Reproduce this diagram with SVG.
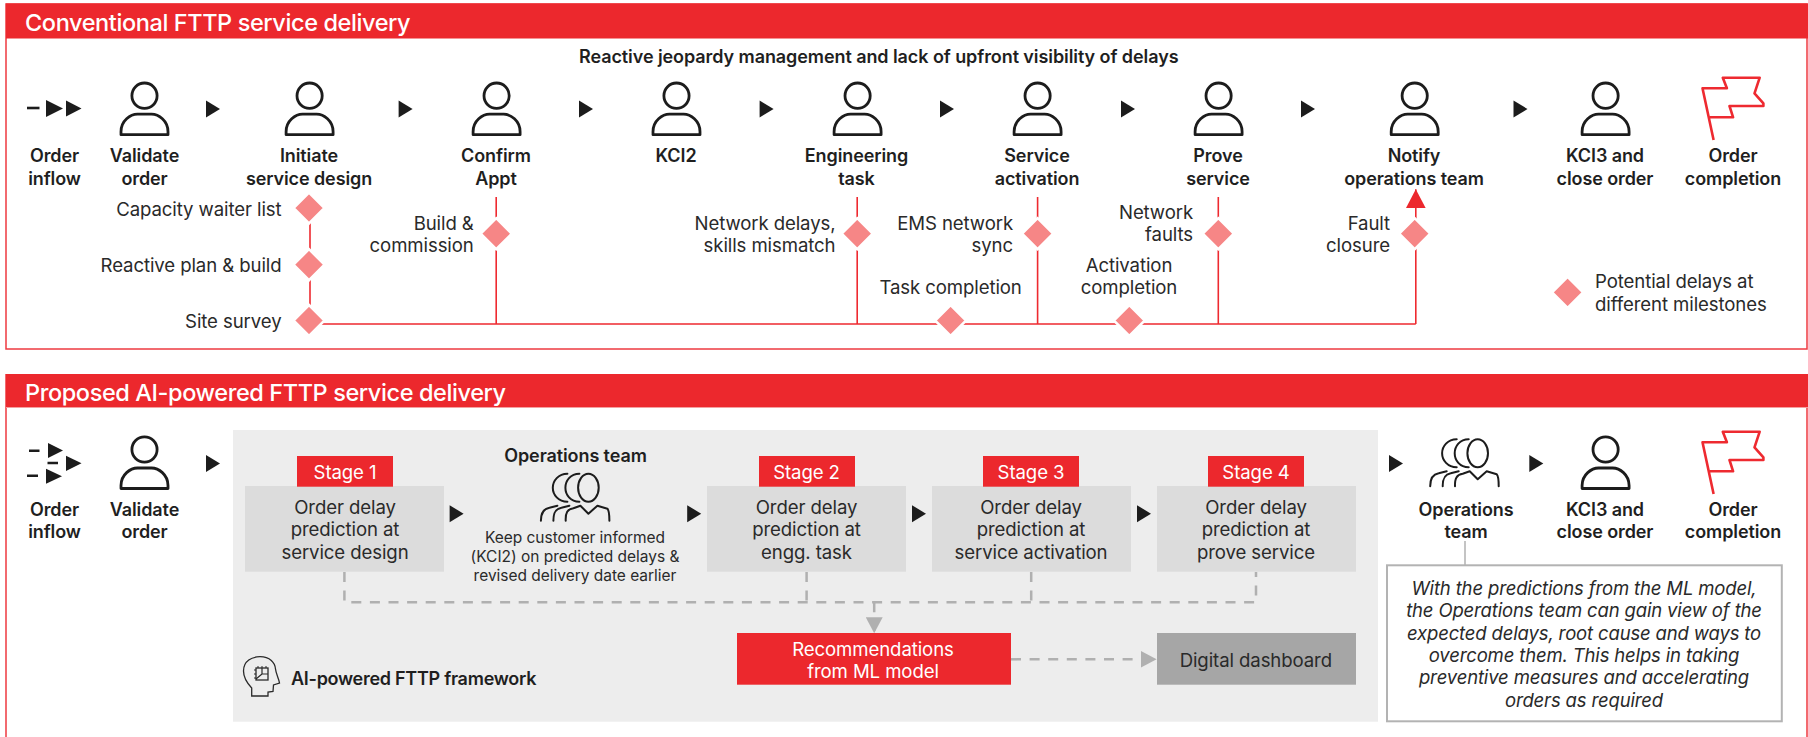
<svg xmlns="http://www.w3.org/2000/svg" width="1808" height="737" viewBox="0 0 1808 737">
<style>
text{font-family:"Inter","Liberation Sans",sans-serif;fill:#2a2a2a}
.title{font-size:23.5px;font-weight:500;fill:#fff;letter-spacing:-.4px}
.b{font-size:18px;font-weight:600;fill:#1f1f1f;text-anchor:middle;letter-spacing:-.1px}
.bl{font-size:18px;font-weight:600;fill:#1f1f1f;letter-spacing:-.27px}
.sub{letter-spacing:-.08px}
.r{font-size:18.6px;letter-spacing:-.1px}
.e{text-anchor:end}
.m{text-anchor:middle}
.w{fill:#fff}
.s{font-size:15.5px;text-anchor:middle;letter-spacing:-.02px}
.i{font-size:18.5px;font-style:italic;text-anchor:middle;letter-spacing:-.15px}
.frame{fill:none;stroke:#ee3a40;stroke-width:1.5}
.hd{fill:#ec282d}
.dia{fill:#f68686;stroke:#fff;stroke-width:2.5}
.red{fill:none;stroke:#ee2a30;stroke-width:1.6}
.dash{fill:none;stroke:#b0b0b0;stroke-width:2.5;stroke-dasharray:10 8.6}
.ink{fill:none;stroke:#1c1c1c;stroke-width:2.8;stroke-linejoin:round}
.ink2{fill:none;stroke:#1c1c1c;stroke-width:2;stroke-linecap:round;stroke-linejoin:round}
.flag{fill:none;stroke:#ee2a30;stroke-width:2.6;stroke-linejoin:round}
.box{fill:#dcdcdc}
.tag{fill:#ec282d}
</style>
<defs>
<polygon id="tri" points="0,-8.5 14,0 0,8.5" fill="#1c1c1c"/>
<polygon id="d" class="dia" points="0,-15.5 15.5,0 0,15.5 -15.5,0"/>
<g id="person"><ellipse cx="0" cy="0" rx="12.6" ry="12.7" class="ink"/><path class="ink" d="M-23.5 39 V36 C-23.5 25 -14 18.5 -7 18.5 H7 C14 18.5 23.5 25 23.5 36 V39 Z"/></g>
<path id="flagshape" class="flag" d="M1713.6 140 L1702.5 88.3 H1726.9 L1722.8 77.7 H1759.7 L1754.5 93.3 L1763.4 103.3 V106 H1729.5 L1733.1 117.3 H1709.9"/>
<g id="ops" class="ink2"><ellipse cx="0" cy="0" rx="10.3" ry="14"/><path d="M-9 -14 C-18 -14 -23 -7 -23 0 C-23 7 -18 14 -9 14M-21 -14 C-30 -14 -35.6 -7 -35.6 0 C-35.6 7 -30 14 -21 14M-22.7 33 C-23 25 -21 21.5 -15 20.5 L-8 18 L0 26 L9 18 L19 21 C21 23 21 27 21 33M-35 33 C-35 25 -33 21 -27 20 L-19 18M-47.5 33 C-47.5 25 -45 21 -39 20 L-31 18"/></g>
<marker id="mRed" markerUnits="userSpaceOnUse" markerWidth="20" markerHeight="20" refX="19" refY="10" orient="auto"><polygon points="0,0 19,10 0,20" fill="#ec282d"/></marker>
<marker id="mGray" markerUnits="userSpaceOnUse" markerWidth="17" markerHeight="17" refX="16" refY="8.5" orient="auto"><polygon points="0,0 16,8.5 0,17" fill="#b0b0b0"/></marker>
</defs>

<g id="section-conventional">
<rect class="frame" x="6" y="4" width="1801" height="345"/>
<rect class="hd" x="6" y="3.5" width="1802" height="35"/>
<text class="title" x="25" y="30.7">Conventional FTTP service delivery</text>
<text class="bl sub" x="579" y="63.3">Reactive jeopardy management and lack of upfront visibility of delays</text>
</g>
<g id="section-proposed">
<path class="frame" d="M6 374 V737 M1807 374 V737"/>
<rect class="hd" x="6" y="374" width="1802" height="33"/>
<rect x="6" y="407" width="1802" height="1" fill="#f4a0a0"/>
<text class="title" x="25" y="400.7">Proposed AI-powered FTTP service delivery</text>
<rect id="framework-panel" x="233" y="430" width="1145" height="291.7" fill="#ededed"/>
</g>

<g id="connectors">
<path class="red" d="M310 200 V320 M310 324 H1415.8 M496.2 197 V324 M857.2 197 V324 M1037.6 197 V324 M1218.3 197 V324"/>
<path class="red" d="M1415.8 324 V189.3" marker-end="url(#mRed)"/>
<path class="dash" d="M344.4 572 V602.3 H1256 V572 M806.6 572 V602.3 M1031.2 572 V602.3"/>
<path class="dash" d="M874.2 602.3 V633.3" marker-end="url(#mGray)"/>
<path class="dash" d="M1011 659.3 H1156.6" marker-end="url(#mGray)"/>
<path d="M1465 541 V565" fill="none" stroke="#b0b0b0" stroke-width="1.5"/>
<g>
<use href="#tri" x="206" y="109"/><use href="#tri" x="398.6" y="109"/><use href="#tri" x="579" y="109"/><use href="#tri" x="759.6" y="109"/><use href="#tri" x="940" y="109"/><use href="#tri" x="1121" y="109"/><use href="#tri" x="1301" y="109"/><use href="#tri" x="1513.5" y="109"/>
<use href="#tri" x="206" y="463.5"/><use href="#tri" x="449.6" y="513.7"/><use href="#tri" x="687.2" y="513.7"/><use href="#tri" x="912" y="513.7"/><use href="#tri" x="1137" y="513.7"/><use href="#tri" x="1389" y="463.5"/><use href="#tri" x="1529.3" y="463.5"/>
</g>
</g>

<g id="n-inflow1"><path d="M27 108 H39.5" stroke="#1c1c1c" stroke-width="2.6"/><polygon points="46,100 63,108.5 46,117" fill="#1c1c1c"/><polygon points="66,100.5 81.5,108.5 66,116.5" fill="#1c1c1c"/><text class="b" x="54.5" y="162">Order</text><text class="b" x="54.5" y="185">inflow</text></g>
<g id="n-validate1"><use href="#person" x="144.5" y="95.7"/><text class="b" x="144.5" y="162">Validate</text><text class="b" x="144.5" y="185">order</text></g>
<g id="n-design"><use href="#person" x="309.6" y="95.7"/><text class="b" x="309" y="162">Initiate</text><text class="b" x="309" y="185">service design</text></g>
<g id="n-confirm"><use href="#person" x="496.6" y="95.7"/><text class="b" x="496" y="162">Confirm</text><text class="b" x="496" y="185">Appt</text></g>
<g id="n-kci2"><use href="#person" x="676.5" y="95.7"/><text class="b" x="676" y="162">KCI2</text></g>
<g id="n-eng"><use href="#person" x="857.6" y="95.7"/><text class="b" x="856.5" y="162">Engineering</text><text class="b" x="856.5" y="185">task</text></g>
<g id="n-activation"><use href="#person" x="1037.6" y="95.7"/><text class="b" x="1037" y="162">Service</text><text class="b" x="1037" y="185">activation</text></g>
<g id="n-prove"><use href="#person" x="1218.6" y="95.7"/><text class="b" x="1218" y="162">Prove</text><text class="b" x="1218" y="185">service</text></g>
<g id="n-notify"><use href="#person" x="1414.7" y="95.7"/><text class="b" x="1414" y="162">Notify</text><text class="b" x="1414" y="185">operations team</text></g>
<g id="n-kci3a"><use href="#person" x="1605.6" y="95.7"/><text class="b" x="1605" y="162">KCI3 and</text><text class="b" x="1605" y="185">close order</text></g>
<g id="n-complete1"><use href="#flagshape"/><text class="b" x="1733" y="162">Order</text><text class="b" x="1733" y="185">completion</text></g>

<g id="d-capacity"><use href="#d" x="309" y="208"/><text class="r e" x="281.5" y="216">Capacity waiter list</text></g>
<g id="d-plan"><use href="#d" x="309" y="264.7"/><text class="r e" x="281.5" y="272">Reactive plan &amp; build</text></g>
<g id="d-survey"><use href="#d" x="309" y="320.5"/><text class="r e" x="281.5" y="328">Site survey</text></g>
<g id="d-build"><use href="#d" x="496.2" y="233.7"/><text class="r e" x="473.7" y="230">Build &amp;</text><text class="r e" x="473.7" y="252">commission</text></g>
<g id="d-network"><use href="#d" x="857.2" y="233.7"/><text class="r e" x="835.5" y="230">Network delays,</text><text class="r e" x="835.5" y="252">skills mismatch</text></g>
<g id="d-ems"><use href="#d" x="1037.6" y="233.7"/><text class="r e" x="1013" y="230">EMS network</text><text class="r e" x="1013" y="252">sync</text></g>
<g id="d-faults"><use href="#d" x="1218.3" y="233.7"/><text class="r e" x="1193" y="218.7">Network</text><text class="r e" x="1193" y="240.7">faults</text></g>
<g id="d-fault"><use href="#d" x="1414.7" y="233.7"/><text class="r e" x="1390" y="230">Fault</text><text class="r e" x="1390" y="252">closure</text></g>
<g id="d-task"><use href="#d" x="950.6" y="320.5"/><text class="r m" x="950.6" y="294">Task completion</text></g>
<g id="d-act"><use href="#d" x="1129.3" y="320.5"/><text class="r m" x="1129" y="272">Activation</text><text class="r m" x="1129" y="294">completion</text></g>
<g id="legend"><use href="#d" x="1567.6" y="292.3"/><text class="r" x="1595" y="288">Potential delays at</text><text class="r" x="1595" y="310.7">different milestones</text></g>

<g id="n-inflow2"><path d="M29 450.7 H39.5 M47.5 463 H58 M27 475.7 H38" stroke="#1c1c1c" stroke-width="2.6"/><polygon points="48,443 63,450.5 48,458" fill="#1c1c1c"/><polygon points="66,455.7 81.5,463.3 66,471" fill="#1c1c1c"/><polygon points="46,468.7 62,476.2 46,483.7" fill="#1c1c1c"/><text class="b" x="54.5" y="515.7">Order</text><text class="b" x="54.5" y="538">inflow</text></g>
<g id="n-validate2"><use href="#person" x="144.5" y="449.5"/><text class="b" x="144.5" y="515.7">Validate</text><text class="b" x="144.5" y="538">order</text></g>

<g id="n-stage1"><rect class="box" x="245" y="486" width="199" height="85.7"/><rect class="tag" x="297" y="456" width="96" height="30.7"/><text class="r m w" x="345" y="479">Stage 1</text><text class="r m" x="345" y="514">Order delay</text><text class="r m" x="345" y="536">prediction at</text><text class="r m" x="345" y="559">service design</text></g>
<g id="n-opsteam"><text class="b" x="575.5" y="462.3">Operations team</text><use href="#ops" x="588.4" y="487.7"/><text class="s" x="575" y="543.3">Keep customer informed</text><text class="s" x="575" y="562.3">(KCI2) on predicted delays &amp;</text><text class="s" x="575" y="581.3">revised delivery date earlier</text></g>
<g id="n-stage2"><rect class="box" x="707" y="486" width="199" height="85.7"/><rect class="tag" x="759" y="456" width="96" height="30.7"/><text class="r m w" x="806.5" y="479">Stage 2</text><text class="r m" x="806.5" y="514">Order delay</text><text class="r m" x="806.5" y="536">prediction at</text><text class="r m" x="806.5" y="559">engg. task</text></g>
<g id="n-stage3"><rect class="box" x="932" y="486" width="199" height="85.7"/><rect class="tag" x="983" y="456" width="96" height="30.7"/><text class="r m w" x="1031" y="479">Stage 3</text><text class="r m" x="1031" y="514">Order delay</text><text class="r m" x="1031" y="536">prediction at</text><text class="r m" x="1031" y="559">service activation</text></g>
<g id="n-stage4"><rect class="box" x="1157" y="486" width="199" height="85.7"/><rect class="tag" x="1208" y="456" width="96" height="30.7"/><text class="r m w" x="1256" y="479">Stage 4</text><text class="r m" x="1256" y="514">Order delay</text><text class="r m" x="1256" y="536">prediction at</text><text class="r m" x="1256" y="559">prove service</text></g>
<g id="n-reco"><rect x="737" y="633" width="274" height="51.7" fill="#ec282d"/><text class="r m w" x="873" y="655.7">Recommendations</text><text class="r m w" x="873" y="678">from ML model</text></g>
<g id="n-dash"><rect x="1157" y="633" width="199" height="51.7" fill="#a6a6a6"/><text class="r m" x="1255.8" y="666.7">Digital dashboard</text></g>
<g id="n-framework"><path d="M251.7 696 V688 C247 683 243.5 678 243.5 671 C243.5 661 252 656.7 260 656.7 C270 656.7 275 663 275.5 669 C276 674 279 679 279.5 683 L273.5 685 L273 691.5 L268 692 V696 Z" fill="none" stroke="#2a2a2a" stroke-width="1.3"/><rect x="256" y="668" width="12" height="12" fill="none" stroke="#2a2a2a" stroke-width="1.3"/><path d="M254 670 H270 M254 674 H270 M254 678 H270 M258 666 V682 M262 666 V682 M266 666 V682" fill="none" stroke="#2a2a2a" stroke-width="1" stroke-dasharray="2 14" stroke-dashoffset="0"/><path d="M262 668 V674 H268 M256 679 L262 674" fill="none" stroke="#2a2a2a" stroke-width="1.2"/><text class="bl" x="291" y="685">AI-powered FTTP framework</text></g>
<g id="n-ops2"><use href="#ops" x="1477.7" y="453.3"/><text class="b" x="1466" y="515.7">Operations</text><text class="b" x="1466" y="538">team</text></g>
<g id="n-kci3b"><use href="#person" x="1605.6" y="449.5"/><text class="b" x="1605" y="515.7">KCI3 and</text><text class="b" x="1605" y="538">close order</text></g>
<g id="n-complete2"><use href="#flagshape" y="354"/><text class="b" x="1733" y="515.7">Order</text><text class="b" x="1733" y="538">completion</text></g>
<g id="n-note"><rect x="1387" y="565.3" width="394.8" height="156" fill="#fff" stroke="#b3b3b3" stroke-width="2"/><text class="i" x="1584" y="595">With the predictions from the ML model,</text><text class="i" x="1584" y="617">the Operations team can gain view of the</text><text class="i" x="1584" y="640">expected delays, root cause and ways to</text><text class="i" x="1584" y="662.3">overcome them. This helps in taking</text><text class="i" x="1584" y="684.3">preventive measures and accelerating</text><text class="i" x="1584" y="707">orders as required</text></g>
</svg>
